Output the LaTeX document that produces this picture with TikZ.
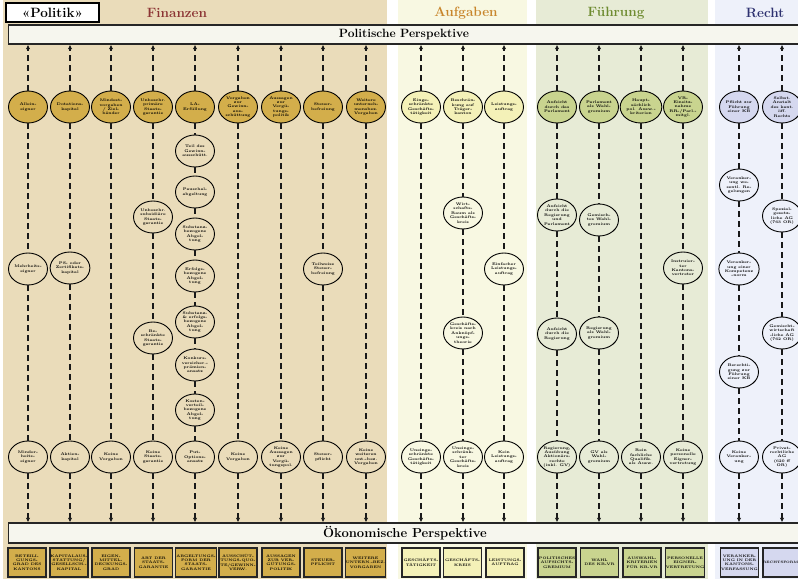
\documentclass[tikz,border=0pt]{standalone}
\usepackage{fontspec}
\usetikzlibrary{shapes.geometric,arrows.meta}
\definecolor{finbg}{HTML}{EADCBA}
\definecolor{aufbg}{HTML}{F8F8E2}
\definecolor{fuhbg}{HTML}{E7EBD6}
\definecolor{rechtbg}{HTML}{EEF1FA}
\definecolor{fingold}{HTML}{D3AE4B}
\definecolor{aufyel}{HTML}{F4F1B8}
\definecolor{fuhgrn}{HTML}{C9D48F}
\definecolor{rechtlav}{HTML}{D5D8EF}
\definecolor{fintitle}{HTML}{8C3434}
\definecolor{auftitle}{HTML}{C8862C}
\definecolor{fuhtitle}{HTML}{6E8B30}
\definecolor{rechttitle}{HTML}{2E3270}
\definecolor{barfill}{HTML}{F6F6EE}
\begin{document}
\begin{tikzpicture}[x=1pt,y=-1pt,
 ov/.style={ellipse,draw=black,line width=0.9pt,minimum width=39pt,minimum height=32pt,inner sep=0pt,align=center,font=\fontsize{3.8}{4.4}\selectfont\bfseries},
 finov/.style={ov,fill=finbg}, aufov/.style={ov,fill=aufbg}, fuhov/.style={ov,fill=fuhbg}, reov/.style={ov,fill=rechtbg},
 fintop/.style={ov,fill=fingold}, auftop/.style={ov,fill=aufyel}, fuhtop/.style={ov,fill=fuhgrn}, retop/.style={ov,fill=rechtlav},
 bx/.style={draw=black!85,line width=1.3pt,minimum width=38pt,minimum height=29pt,inner sep=0.5pt,align=center,font=\fontsize{3.6}{4.4}\selectfont\bfseries},
 dl/.style={line width=1.8pt,dash pattern=on 6pt off 4pt,draw=black!90},
 tip/.style={dl,-{Latex[length=4.5pt,width=4.5pt]}},
 bar/.style={draw=black!85,line width=1.4pt,fill=barfill,minimum width=792pt,inner sep=0pt,anchor=west},
 ttl/.style={font=\fontsize{13.5}{13.5}\selectfont\bfseries}
]
\useasboundingbox (0,0) rectangle (798,581);
% panels
\fill[finbg] (3,0) rectangle (387,579);
\fill[aufbg] (398,0) rectangle (527,579);
\fill[fuhbg] (536,0) rectangle (708,579);
\fill[rechtbg] (715,0) rectangle (798,579);
% header
\node[draw=black,line width=1.5pt,fill=white,minimum width=93pt,minimum height=19pt,inner sep=0pt,font=\fontsize{13.5}{13.5}\selectfont\bfseries] (politik) at (52.5,12.5) {«Politik»};
\node[ttl,text=fintitle] (tfin) at (177,13) {Finanzen};
\node[ttl,text=auftitle] (tauf) at (466,13) {Aufgaben};
\node[ttl,text=fuhtitle] (tfuh) at (616,13) {Führung};
\node[ttl,text=rechttitle] (trecht) at (765,13) {Recht};
% bars
\node[bar,minimum height=19pt] (pol) at (8,34.5) {};
\node[font=\fontsize{12}{12}\selectfont\bfseries] (poltext) at (404,34.5) {Politische Perspektive};
\node[bar,minimum height=20pt] (oek) at (8,533) {};
\node[font=\fontsize{13}{13}\selectfont\bfseries] (oektext) at (405,533) {Ökonomische Perspektive};
% column 1
\node[fintop] (c1a) at (28,107) {Allein-\\eigner};
\node[finov] (c1b) at (28,269) {Mehrheits-\\eigner};
\node[finov] (c1c) at (28,457) {Minder-\\heits-\\eigner};
% column 2
\node[fintop] (c2a) at (70,107) {Dotations-\\kapital};
\node[finov] (c2b) at (70,268) {PS- oder\\Zertifikats-\\kapital};
\node[finov] (c2c) at (70,457) {Aktien-\\kapital};
% column 3
\node[fintop] (c3a) at (111,107) {Mindest-\\vorgaben\\/ Ziel-\\bänder};
\node[finov] (c3b) at (111,457) {Keine\\Vorgaben};
% column 4
\node[fintop] (c4a) at (153,107) {Unbeschr.\\primäre\\Staats-\\garantie};
\node[finov] (c4b) at (153,217) {Unbeschr.\\subsidiäre\\Staats-\\garantie};
\node[finov] (c4c) at (153,338) {Be-\\schränkte\\Staats-\\garantie};
\node[finov] (c4d) at (153,457) {Keine\\Staats-\\garantie};
% column 5
\node[fintop] (c5a) at (195,107) {LA-\\Erfüllung};
\node[finov] (c5b) at (195,151) {Teil des\\Gewinn-\\ausschütt.};
\node[finov] (c5c) at (195,192) {Pauschal-\\abgeltung};
\node[finov] (c5d) at (195,234) {Substanz-\\bezogene\\Abgel-\\tung};
\node[finov] (c5e) at (195,276) {Erfolgs-\\bezogene\\Abgel-\\tung};
\node[finov] (c5f) at (195,322) {Substanz-\\\& erfolgs-\\bezogene\\Abgel-\\tung};
\node[finov] (c5g) at (195,365) {Konkurs-\\versicher.-\\prämien-\\ansatz};
\node[finov] (c5h) at (195,410) {Kosten-\\verteil-\\bezogene\\Abgel-\\tung};
\node[finov] (c5i) at (195,457) {Put-\\Options-\\ansatz};
% column 6
\node[fintop] (c6a) at (238,107) {Vorgaben\\zur\\Gewinn-\\aus-\\schüttung};
\node[finov] (c6b) at (238,457) {Keine\\Vorgaben};
% column 7
\node[fintop] (c7a) at (281,107) {Aussagen\\zur\\Vergü-\\tungs-\\politik};
\node[finov] (c7b) at (281,457) {Keine\\Aussagen\\zur\\Vergü-\\tungspol.};
% column 8
\node[fintop] (c8a) at (323,107) {Steuer-\\befreiung};
\node[finov] (c8b) at (323,269) {Teilweise\\Steuer-\\befreiung};
\node[finov] (c8c) at (323,457) {Steuer-\\pflicht};
% column 9
\node[fintop] (c9a) at (366,107) {Weitere\\unterneh-\\mensbez.\\Vorgaben};
\node[finov] (c9b) at (366,457) {Keine\\weiteren\\unt.-bez.\\Vorgaben};
% column 10
\node[auftop] (c10a) at (421,107) {Einge-\\schränkte\\Geschäfts-\\tätigkeit};
\node[aufov] (c10b) at (421,457) {Uneinge-\\schränkte\\Geschäfts-\\tätigkeit};
% column 11
\node[auftop] (c11a) at (463,107) {Beschrän-\\kung auf\\Träger-\\kanton};
\node[aufov] (c11b) at (463,213) {Wirt-\\schafts-\\Raum als\\Geschäfts-\\kreis};
\node[aufov] (c11c) at (463,333) {Geschäfts-\\kreis nach\\Anknüpf-\\ungs-\\theorie};
\node[aufov] (c11d) at (463,457) {Uneinge-\\schränk-\\ter\\Geschäfts-\\kreis};
% column 12
\node[auftop] (c12a) at (504,107) {Leistungs-\\auftrag};
\node[aufov] (c12b) at (504,269) {Einfacher\\Leistungs-\\auftrag};
\node[aufov] (c12c) at (504,457) {Kein\\Leistungs-\\auftrag};
% column 13
\node[fuhtop] (c13a) at (557,107) {Aufsicht\\durch das\\Parlament};
\node[fuhov] (c13b) at (557,215) {Aufsicht\\durch die\\Regierung\\und\\Parlament};
\node[fuhov] (c13c) at (557,334) {Aufsicht\\durch die\\Regierung};
\node[fuhov] (c13d) at (557,457) {Regierung,\\Ausübung\\Aktionärs-\\rechte\\(inkl. GV)};
% column 14
\node[fuhtop] (c14a) at (599,107) {Parlament\\als Wahl-\\gremium};
\node[fuhov] (c14b) at (599,220) {Gemisch-\\tes Wahl-\\gremium};
\node[fuhov] (c14c) at (599,333) {Regierung\\als Wahl-\\gremium};
\node[fuhov] (c14d) at (599,457) {GV als\\Wahl-\\gremium};
% column 15
\node[fuhtop] (c15a) at (641,107) {Haupt-\\sächlich\\pol. Ausw.-\\kriterien};
\node[fuhov] (c15b) at (641,457) {Rein\\fachliche\\Qualifik.\\als Ausw.};
% column 16
\node[fuhtop] (c16a) at (683,107) {VR-\\Einsitz-\\nahme\\RR-/Parl.-\\mitgl.};
\node[fuhov] (c16b) at (683,268) {Instruier-\\ter\\Kantons-\\vertreter};
\node[fuhov] (c16c) at (683,457) {Keine\\personelle\\Eigner-\\vertretung};
% column 17
\node[retop] (c17a) at (739,107) {Pflicht zur\\Führung\\einer KB};
\node[reov] (c17b) at (739,185) {Veranker-\\ung we-\\sentl. Re-\\gelungen};
\node[reov] (c17c) at (739,269) {Veranker-\\ung einer\\Kompetenz\\-norm};
\node[reov] (c17d) at (739,372) {Berechti-\\gung zur\\Führung\\einer KB};
\node[reov] (c17e) at (739,457) {Keine\\Veranker-\\ung};
% column 18
\node[retop] (c18a) at (782,107) {Selbst.\\Anstalt\\des kant.\\öff.\\Rechts};
\node[reov] (c18b) at (782,216) {Spezial-\\gesetz-\\liche AG\\(763 OR)};
\node[reov] (c18c) at (782,333) {Gemischt-\\wirtschaft\\-liche AG\\(762 OR)};
\node[reov] (c18d) at (782,457) {Privat-\\rechtliche\\AG\\(620 ff\\OR)};
% dashed links between nodes
\foreach \p/\q in {c1a/c1b,c1b/c1c,c2a/c2b,c2b/c2c,c3a/c3b,c4a/c4b,c4b/c4c,c4c/c4d,
 c5a/c5b,c5b/c5c,c5c/c5d,c5d/c5e,c5e/c5f,c5f/c5g,c5g/c5h,c5h/c5i,c6a/c6b,c7a/c7b,
 c8a/c8b,c8b/c8c,c9a/c9b,c10a/c10b,c11a/c11b,c11b/c11c,c11c/c11d,c12a/c12b,c12b/c12c,
 c13a/c13b,c13b/c13c,c13c/c13d,c14a/c14b,c14b/c14c,c14c/c14d,c15a/c15b,c16a/c16b,c16b/c16c,
 c17a/c17b,c17b/c17c,c17c/c17d,c17d/c17e,c18a/c18b,c18b/c18c,c18c/c18d}
 \draw[dl] (\p) -- (\q);
% arrows up to political bar
\foreach \n in {c1a,c2a,c3a,c4a,c5a,c6a,c7a,c8a,c9a,c10a,c11a,c12a,c13a,c14a,c15a,c16a,c17a,c18a}
 \draw[tip] (\n) -- (\n |- pol.south);
% arrows down to economic bar
\foreach \n in {c1c,c2c,c3b,c4d,c5i,c6b,c7b,c8c,c9b,c10b,c11d,c12c,c13d,c14d,c15b,c16c,c17e,c18d}
 \draw[tip] (\n) -- (\n |- oek.north);
% bottom boxes
\node[bx,fill=fingold] (b1) at (27,562.5) {BETEILI-\\GUNGS-\\GRAD DES\\KANTONS};
\node[bx,fill=fingold] (b2) at (69,562.5) {KAPITALAUS-\\STATTUNG/\\GESELLSCH.-\\KAPITAL};
\node[bx,fill=fingold] (b3) at (111,562.5) {EIGEN-\\MITTEL-\\DECKUNGS-\\GRAD};
\node[bx,fill=fingold] (b4) at (153.5,562.5) {ART DER\\STAATS-\\GARANTIE};
\node[bx,fill=fingold] (b5) at (196,562.5) {ABGELTUNGS-\\FORM DER\\STAATS-\\GARANTIE};
\node[bx,fill=fingold] (b6) at (238,562.5) {AUSSCHÜT-\\TUNGS-QUO-\\TE/GEWINN-\\VERW.};
\node[bx,fill=fingold] (b7) at (281,562.5) {AUSSAGEN\\ZUR VER-\\GÜTUNGS-\\POLITIK};
\node[bx,fill=fingold] (b8) at (323,562.5) {STEUER-\\PFLICHT};
\node[bx,fill=fingold] (b9) at (365.5,562.5) {WEITERE\\UNTERN.-BEZ.\\VORGABEN};
\node[bx,fill=aufyel] (b10) at (421,562.5) {GESCHÄFTS-\\TÄTIGKEIT};
\node[bx,fill=aufyel] (b11) at (462.5,562.5) {GESCHÄFTS-\\KREIS};
\node[bx,fill=aufyel] (b12) at (505,562.5) {LEISTUNGS-\\AUFTRAG};
\node[bx,fill=fuhgrn] (b13) at (557,562.5) {POLITISCHES\\AUFSICHTS-\\GREMIUM};
\node[bx,fill=fuhgrn] (b14) at (599.5,562.5) {WAHL\\DES KB-VR};
\node[bx,fill=fuhgrn] (b15) at (642,562.5) {AUSWAHL-\\KRITERIEN\\FÜR KB-VR};
\node[bx,fill=fuhgrn] (b16) at (685,562.5) {PERSONELLE\\EIGNER-\\VERTRETUNG};
\node[bx,fill=rechtlav] (b17) at (739.5,562.5) {VERANKER-\\UNG IN DER\\KANTONS-\\VERFASSUNG};
\node[bx,fill=rechtlav] (b18) at (782,562.5) {};
\node[font=\fontsize{3.3}{4}\selectfont\bfseries,inner sep=0pt] (b18t) at (780.5,562.5) {RECHTSFORM};
\end{tikzpicture}
\end{document}
